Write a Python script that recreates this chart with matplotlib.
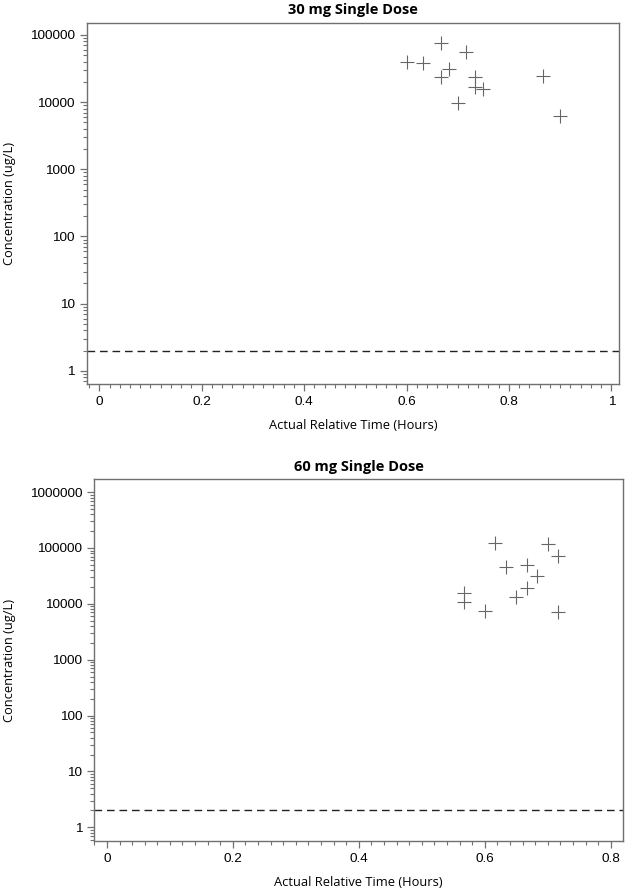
#!/usr/bin/env python3
# -*- coding: utf-8 -*-

import matplotlib
matplotlib.use('Agg')
import matplotlib.pyplot as plt
from matplotlib.ticker import LogLocator, MultipleLocator, FixedLocator, NullFormatter
import numpy as np

# 30 mg single dose - time (hours) and concentration (ug/L)
time_30mg = [0.667, 0.717, 0.600, 0.633, 0.683, 0.667, 0.733, 0.733,
             0.750, 0.700, 0.867, 0.900]
conc_30mg = [75200, 56400, 39200, 37900, 31500, 23900, 23400, 17000,
             15700, 9600, 24500, 6200]

# 60 mg single dose
time_60mg = [0.617, 0.700, 0.717, 0.633, 0.667, 0.683, 0.667, 0.650,
             0.567, 0.567, 0.600, 0.717]
conc_60mg = [122000, 119000, 73200, 46500, 49900, 31700, 19100, 13500,
             15900, 10700, 7500, 7200]

# Lower limit of quantification
LLOQ = 2

titles = ['30 mg Single Dose', '60 mg Single Dose']
x_label = 'Actual Relative Time (Hours)'
y_label = 'Concentration (ug/L)'
x_ticks_30 = [0, 0.2, 0.4, 0.6, 0.8, 1]
x_ticks_60 = [0, 0.2, 0.4, 0.6, 0.8]
y_ticks_30 = [1, 10, 100, 1000, 10000, 100000]
y_ticks_60 = [1, 10, 100, 1000, 10000, 100000, 1000000]

# Figure settings
GRAY = '#707070'
MARKER_COLOR = '#666666'
LABEL_FONT = 'Open Sans'
TICK_FONT = 'Liberation Sans'


def format_conc_plot(ax, title, xticks, xlim, yticks, ylim, ylabel_x):
    # Title and axis labels
    ax.set_title(title, fontsize=10.5, fontweight='bold', family=LABEL_FONT,
                 pad=6)
    ax.set_xlabel(x_label, fontsize=9.3, family=LABEL_FONT, labelpad=8)
    ax.set_ylabel(y_label, fontsize=9.3, family=LABEL_FONT)
    ax.yaxis.set_label_coords(ylabel_x, 0.5)

    # Log y axis
    ax.set_yscale('log')
    ax.set_ylim(*ylim)
    ax.yaxis.set_major_locator(FixedLocator(yticks))
    ax.set_yticklabels([str(v) for v in yticks])
    ax.yaxis.set_minor_locator(LogLocator(base=10, subs=np.arange(2, 10)))
    ax.yaxis.set_minor_formatter(NullFormatter())

    # Linear x axis
    ax.set_xlim(*xlim)
    ax.xaxis.set_major_locator(FixedLocator(xticks))
    ax.set_xticklabels(['%g' % v for v in xticks])
    ax.xaxis.set_minor_locator(MultipleLocator(0.02))

    # Frame and ticks
    for spine in ax.spines.values():
        spine.set_color(GRAY)
        spine.set_linewidth(1.0)
    ax.tick_params(which='major', length=5, width=0.9, color=GRAY,
                   labelsize=9.7, pad=3.5)
    ax.tick_params(which='minor', length=3, width=0.8, color=GRAY)
    for lab in ax.get_xticklabels() + ax.get_yticklabels():
        lab.set_family(TICK_FONT)


def draw_panel(ax, times, concs):
    ax.plot(times, concs, linestyle='none', marker='+', markersize=9.5,
            markeredgewidth=0.8, color=MARKER_COLOR)
    ax.axhline(LLOQ, color='#222222', linestyle=(0, (5.5, 3.5)),
               linewidth=1.0)


fig = plt.figure(figsize=(6.25, 8.92), dpi=100)

ax1 = fig.add_axes([0.1387, 0.5695, 0.8522, 0.4050])
draw_panel(ax1, time_30mg, conc_30mg)
format_conc_plot(ax1, titles[0], x_ticks_30, (-0.0246, 1.0156),
                 y_ticks_30, (0.636, 152000), -0.133)

ax2 = fig.add_axes([0.1509, 0.0575, 0.8454, 0.4052])
draw_panel(ax2, time_60mg, conc_60mg)
format_conc_plot(ax2, titles[1], x_ticks_60, (-0.020, 0.819),
                 y_ticks_60, (0.574, 1700000), -0.149)

fig.savefig('out.png', dpi=100)
